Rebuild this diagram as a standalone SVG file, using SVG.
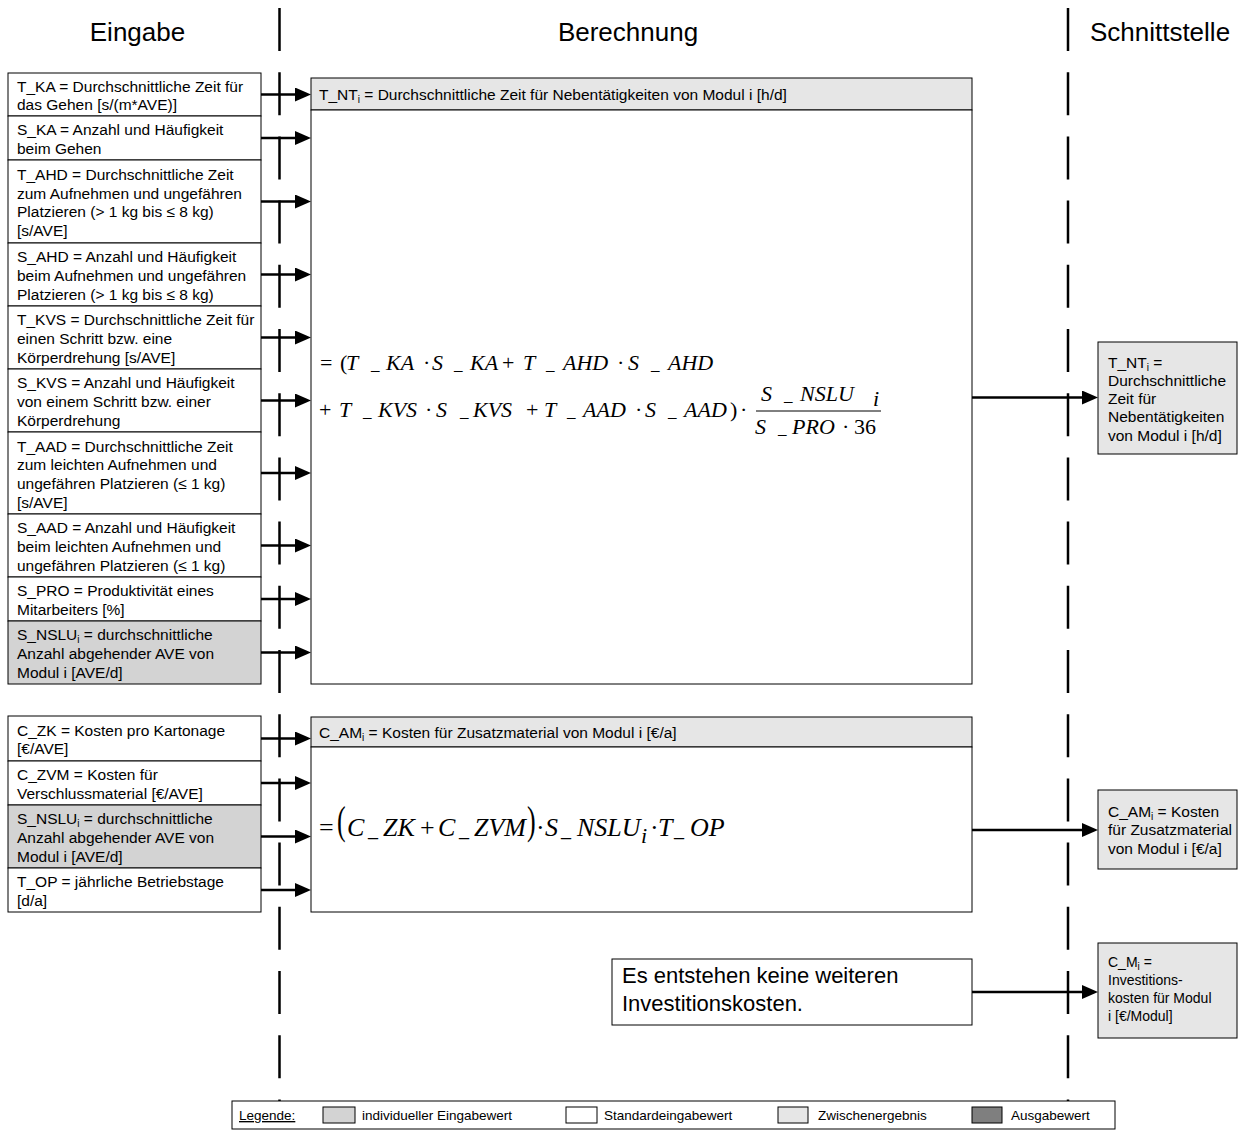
<svg xmlns="http://www.w3.org/2000/svg" width="1243" height="1131" viewBox="0 0 1243 1131">
  <style>
    .box { fill: #ffffff; stroke: #000000; stroke-width: 1; }
    .ind { fill: #d3d3d3; }
    .mid { fill: #e6e6e6; }
    .out { fill: #7f7f7f; }
    .t { font-family: "Liberation Sans", Arial, sans-serif; font-size: 15.5px; fill: #000; }
    .sm { font-size: 14px; }
    .big { font-size: 22px; }
    .title { font-family: "Liberation Sans", Arial, sans-serif; font-size: 26px; fill: #000; text-anchor: middle; }
    .leg { font-family: "Liberation Sans", Arial, sans-serif; font-size: 13.5px; fill: #000; }
    .m { font-family: "Liberation Serif", "Times New Roman", serif; font-size: 22px; fill: #000; }
    .m .u { font-size: 17px; }
    .m2 { font-family: "Liberation Serif", "Times New Roman", serif; font-size: 26px; fill: #000; }
    .m2 .u { font-size: 20px; }
    .i { font-style: italic; }
    .sub { font-size: 10px; }
    .lane { stroke: #000; stroke-width: 2.5; stroke-dasharray: 43 21.2; fill: none; }
    .arr { stroke: #000; stroke-width: 2.5; fill: none; marker-end: url(#ah); }
  </style>
  <defs>
    <marker id="ah" markerUnits="userSpaceOnUse" markerWidth="16" markerHeight="14" refX="8" refY="7" orient="auto">
      <path d="M0,0 L16,7 L0,14 Z" fill="#000"/>
    </marker>
  </defs>

  <!-- column titles -->
  <g id="titles">
    <text class="title" x="137.5" y="41">Eingabe</text>
    <text class="title" x="628" y="41">Berechnung</text>
    <text class="title" x="1160" y="41">Schnittstelle</text>
  </g>

  <!-- swimlane separators -->
  <g id="lanes">
    <line class="lane" x1="279.5" y1="8" x2="279.5" y2="1101"/>
    <line class="lane" x1="1068" y1="8" x2="1068" y2="1101"/>
  </g>

  <!-- inputs, block 1 -->
  <g id="in_T_KA">
    <rect class="box" x="8" y="73" width="253" height="43"/>
    <text class="t" x="17" y="91.6">T_KA = Durchschnittliche Zeit für<tspan x="17" dy="18.7">das Gehen [s/(m*AVE)]</tspan></text>
  </g>
  <g id="in_S_KA">
    <rect class="box" x="8" y="116" width="253" height="44"/>
    <text class="t" x="17" y="135.2">S_KA = Anzahl und Häufigkeit<tspan x="17" dy="18.7">beim Gehen</tspan></text>
  </g>
  <g id="in_T_AHD">
    <rect class="box" x="8" y="160" width="253" height="83"/>
    <text class="t" x="17" y="180">T_AHD = Durchschnittliche Zeit<tspan x="17" dy="18.7">zum Aufnehmen und ungefähren</tspan><tspan x="17" dy="18.7">Platzieren (&gt; 1 kg bis ≤ 8 kg)</tspan><tspan x="17" dy="18.7">[s/AVE]</tspan></text>
  </g>
  <g id="in_S_AHD">
    <rect class="box" x="8" y="243" width="253" height="63"/>
    <text class="t" x="17" y="262.3">S_AHD = Anzahl und Häufigkeit<tspan x="17" dy="18.7">beim Aufnehmen und ungefähren</tspan><tspan x="17" dy="18.7">Platzieren (&gt; 1 kg bis ≤ 8 kg)</tspan></text>
  </g>
  <g id="in_T_KVS">
    <rect class="box" x="8" y="306" width="253" height="63"/>
    <text class="t" x="17" y="325.3">T_KVS = Durchschnittliche Zeit für<tspan x="17" dy="18.7">einen Schritt bzw. eine</tspan><tspan x="17" dy="18.7">Körperdrehung [s/AVE]</tspan></text>
  </g>
  <g id="in_S_KVS">
    <rect class="box" x="8" y="369" width="253" height="63"/>
    <text class="t" x="17" y="388.3">S_KVS = Anzahl und Häufigkeit<tspan x="17" dy="18.7">von einem Schritt bzw. einer</tspan><tspan x="17" dy="18.7">Körperdrehung</tspan></text>
  </g>
  <g id="in_T_AAD">
    <rect class="box" x="8" y="432" width="253" height="82"/>
    <text class="t" x="17" y="451.5">T_AAD = Durchschnittliche Zeit<tspan x="17" dy="18.7">zum leichten Aufnehmen und</tspan><tspan x="17" dy="18.7">ungefähren Platzieren (≤ 1 kg)</tspan><tspan x="17" dy="18.7">[s/AVE]</tspan></text>
  </g>
  <g id="in_S_AAD">
    <rect class="box" x="8" y="514" width="253" height="63"/>
    <text class="t" x="17" y="533.3">S_AAD = Anzahl und Häufigkeit<tspan x="17" dy="18.7">beim leichten Aufnehmen und</tspan><tspan x="17" dy="18.7">ungefähren Platzieren (≤ 1 kg)</tspan></text>
  </g>
  <g id="in_S_PRO">
    <rect class="box" x="8" y="577" width="253" height="44"/>
    <text class="t" x="17" y="596.2">S_PRO = Produktivität eines<tspan x="17" dy="18.7">Mitarbeiters [%]</tspan></text>
  </g>
  <g id="in_S_NSLU_1">
    <rect class="box ind" x="8" y="621" width="253" height="63"/>
    <text class="t" x="17" y="640.3">S_NSLU<tspan class="sub" dy="3">i</tspan><tspan dy="-3"> = durchschnittliche</tspan><tspan x="17" dy="18.7">Anzahl abgehender AVE von</tspan><tspan x="17" dy="18.7">Modul i [AVE/d]</tspan></text>
  </g>

  <!-- calculation block 1 -->
  <g id="calc_T_NT">
    <rect class="box mid" x="311" y="78" width="661" height="32"/>
    <text class="t" x="319" y="99.5">T_NT<tspan class="sub" dy="3">i</tspan><tspan dy="-3"> = Durchschnittliche Zeit für Nebentätigkeiten von Modul i [h/d]</tspan></text>
    <rect class="box" x="311" y="110" width="661" height="574"/>
    <text class="m" y="370">
      <tspan x="320">=</tspan><tspan x="340">(</tspan><tspan class="i" x="346">T</tspan><tspan class="u" x="371">_</tspan><tspan class="i" x="386">KA</tspan><tspan x="423">·</tspan><tspan class="i" x="432">S</tspan><tspan class="u" x="454">_</tspan><tspan class="i" x="470">KA</tspan><tspan x="502">+</tspan><tspan class="i" x="523">T</tspan><tspan class="u" x="546">_</tspan><tspan class="i" x="563">AHD</tspan><tspan x="617">·</tspan><tspan class="i" x="628">S</tspan><tspan class="u" x="651">_</tspan><tspan class="i" x="668">AHD</tspan>
    </text>
    <text class="m" y="417">
      <tspan x="319">+</tspan><tspan class="i" x="339">T</tspan><tspan class="u" x="363">_</tspan><tspan class="i" x="378">KVS</tspan><tspan x="425">·</tspan><tspan class="i" x="436">S</tspan><tspan class="u" x="460">_</tspan><tspan class="i" x="473">KVS</tspan><tspan x="526">+</tspan><tspan class="i" x="544">T</tspan><tspan class="u" x="567">_</tspan><tspan class="i" x="583">AAD</tspan><tspan x="635">·</tspan><tspan class="i" x="645">S</tspan><tspan class="u" x="668">_</tspan><tspan class="i" x="684">AAD</tspan><tspan x="730">)</tspan><tspan x="740">·</tspan>
    </text>
    <text class="m" y="401">
      <tspan class="i" x="761">S</tspan><tspan class="u" x="784">_</tspan><tspan class="i" x="800">NSLU</tspan>
    </text>
    <text class="m i" x="873" y="406" font-size="13">i</text>
    <line x1="756" y1="411" x2="881" y2="411" stroke="#000" stroke-width="1"/>
    <text class="m" y="434">
      <tspan class="i" x="755">S</tspan><tspan class="u" x="778">_</tspan><tspan class="i" x="792">PRO</tspan><tspan x="842">·</tspan><tspan x="854">36</tspan>
    </text>
  </g>

  <!-- inputs, block 2 -->
  <g id="in_C_ZK">
    <rect class="box" x="8" y="716" width="253" height="45"/>
    <text class="t" x="17" y="735.6">C_ZK = Kosten pro Kartonage<tspan x="17" dy="18.7">[€/AVE]</tspan></text>
  </g>
  <g id="in_C_ZVM">
    <rect class="box" x="8" y="761" width="253" height="44"/>
    <text class="t" x="17" y="780.2">C_ZVM = Kosten für<tspan x="17" dy="18.7">Verschlussmaterial [€/AVE]</tspan></text>
  </g>
  <g id="in_S_NSLU_2">
    <rect class="box ind" x="8" y="805" width="253" height="63"/>
    <text class="t" x="17" y="824.3">S_NSLU<tspan class="sub" dy="3">i</tspan><tspan dy="-3"> = durchschnittliche</tspan><tspan x="17" dy="18.7">Anzahl abgehender AVE von</tspan><tspan x="17" dy="18.7">Modul i [AVE/d]</tspan></text>
  </g>
  <g id="in_T_OP">
    <rect class="box" x="8" y="868" width="253" height="44"/>
    <text class="t" x="17" y="887.2">T_OP = jährliche Betriebstage<tspan x="17" dy="18.7">[d/a]</tspan></text>
  </g>

  <!-- calculation block 2 -->
  <g id="calc_C_AM">
    <rect class="box mid" x="311" y="717" width="661" height="30"/>
    <text class="t" x="319" y="737.5">C_AM<tspan class="sub" dy="3">i</tspan><tspan dy="-3"> = Kosten für Zusatzmaterial von Modul i [€/a]</tspan></text>
    <rect class="box" x="311" y="747" width="661" height="165"/>
    <text class="m2" x="319" y="836">=</text>
    <text class="m2" transform="translate(337,834) scale(1,1.5)">(</text>
    <text class="m2" y="836">
      <tspan class="i" x="347">C</tspan><tspan class="u" x="368">_</tspan><tspan class="i" x="383">ZK</tspan><tspan x="420">+</tspan><tspan class="i" x="438">C</tspan><tspan class="u" x="459">_</tspan><tspan class="i" x="474">ZVM</tspan>
    </text>
    <text class="m2" transform="translate(527,834) scale(1,1.5)">)</text>
    <text class="m2" y="836">
      <tspan x="536">·</tspan><tspan class="i" x="545">S</tspan><tspan class="u" x="561">_</tspan><tspan class="i" x="577">NSLU</tspan><tspan x="650">·</tspan><tspan class="i" x="658">T</tspan><tspan class="u" x="674">_</tspan><tspan class="i" x="690">OP</tspan>
    </text>
    <text class="m i" x="641" y="843" font-size="15">i</text>
  </g>

  <!-- investment note -->
  <g id="calc_C_M">
    <rect class="box" x="612" y="959" width="360" height="66"/>
    <text class="t big" x="622" y="983">Es entstehen keine weiteren<tspan x="622" dy="28">Investitionskosten.</tspan></text>
  </g>

  <!-- interface outputs -->
  <g id="out_T_NT">
    <rect class="box mid" x="1098" y="342" width="139" height="112"/>
    <text class="t" x="1108" y="367.5">T_NT<tspan class="sub" dy="3">i</tspan><tspan dy="-3"> =</tspan><tspan x="1108" dy="18.3">Durchschnittliche</tspan><tspan x="1108" dy="18.3">Zeit für</tspan><tspan x="1108" dy="18.3">Nebentätigkeiten</tspan><tspan x="1108" dy="18.3">von Modul i [h/d]</tspan></text>
  </g>
  <g id="out_C_AM">
    <rect class="box mid" x="1098" y="790" width="139" height="79"/>
    <text class="t" x="1108" y="817">C_AM<tspan class="sub" dy="3">i</tspan><tspan dy="-3"> = Kosten</tspan><tspan x="1108" dy="18.3">für Zusatzmaterial</tspan><tspan x="1108" dy="18.3">von Modul i [€/a]</tspan></text>
  </g>
  <g id="out_C_M">
    <rect class="box mid" x="1098" y="943" width="139" height="95"/>
    <text class="t sm" x="1108" y="967">C_M<tspan class="sub" dy="3">i</tspan><tspan dy="-3"> =</tspan><tspan x="1108" dy="18">Investitions-</tspan><tspan x="1108" dy="18">kosten für Modul</tspan><tspan x="1108" dy="18">i [€/Modul]</tspan></text>
  </g>

  <!-- connectors -->
  <g id="connectors">
    <line class="arr" x1="261" y1="94.5" x2="303" y2="94.5"/>
    <line class="arr" x1="261" y1="138" x2="303" y2="138"/>
    <line class="arr" x1="261" y1="201.5" x2="303" y2="201.5"/>
    <line class="arr" x1="261" y1="274.5" x2="303" y2="274.5"/>
    <line class="arr" x1="261" y1="337.5" x2="303" y2="337.5"/>
    <line class="arr" x1="261" y1="400.5" x2="303" y2="400.5"/>
    <line class="arr" x1="261" y1="473" x2="303" y2="473"/>
    <line class="arr" x1="261" y1="545.5" x2="303" y2="545.5"/>
    <line class="arr" x1="261" y1="599" x2="303" y2="599"/>
    <line class="arr" x1="261" y1="652.5" x2="303" y2="652.5"/>
    <line class="arr" x1="261" y1="738.5" x2="303" y2="738.5"/>
    <line class="arr" x1="261" y1="783" x2="303" y2="783"/>
    <line class="arr" x1="261" y1="836.5" x2="303" y2="836.5"/>
    <line class="arr" x1="261" y1="890" x2="303" y2="890"/>
    <line class="arr" x1="972" y1="397.5" x2="1090" y2="397.5"/>
    <line class="arr" x1="972" y1="830" x2="1090" y2="830"/>
    <line class="arr" x1="972" y1="992" x2="1090" y2="992"/>
  </g>

  <!-- legend -->
  <g id="legend">
    <rect class="box" x="232" y="1101" width="883" height="28"/>
    <text class="leg" x="239" y="1120" text-decoration="underline">Legende:</text>
    <rect class="box ind" x="323" y="1107" width="32" height="16"/>
    <text class="leg" x="362" y="1120">individueller Eingabewert</text>
    <rect class="box" x="566" y="1107" width="31" height="16"/>
    <text class="leg" x="604" y="1120">Standardeingabewert</text>
    <rect class="box mid" x="778" y="1107" width="30" height="16"/>
    <text class="leg" x="818" y="1120">Zwischenergebnis</text>
    <rect class="box out" x="972" y="1107" width="30" height="16"/>
    <text class="leg" x="1011" y="1120">Ausgabewert</text>
  </g>
</svg>
